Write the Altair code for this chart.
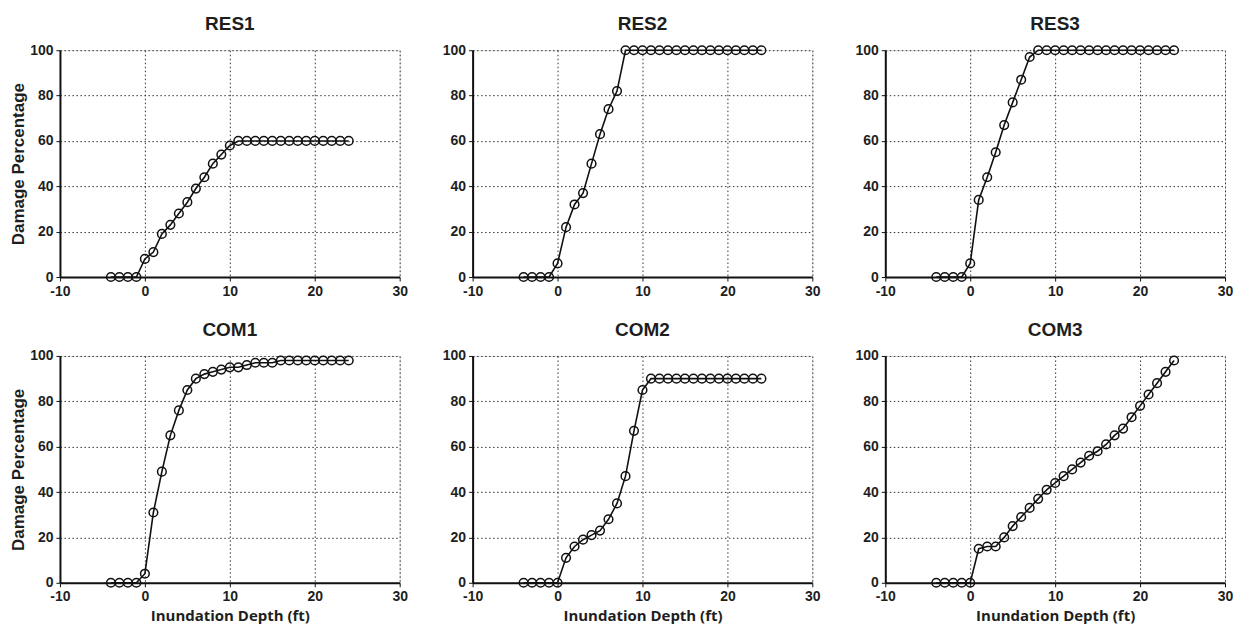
import altair as alt
import pandas as pd

depth = list(range(-4, 25))

res1 = [0, 0, 0, 0, 8, 11, 19, 23, 28, 33, 39, 44, 50, 54, 58] + [60] * 14
res2 = [0, 0, 0, 0, 6, 22, 32, 37, 50, 63, 74, 82] + [100] * 17
res3 = [0, 0, 0, 0, 6, 34, 44, 55, 67, 77, 87, 97] + [100] * 17
com1 = [0, 0, 0, 0, 4, 31, 49, 65, 76, 85, 90, 92, 93, 94, 95, 95, 96, 97, 97, 97] + [98] * 9
com2 = [0, 0, 0, 0, 0, 11, 16, 19, 21, 23, 28, 35, 47, 67, 85] + [90] * 14
com3 = [0, 0, 0, 0, 0, 15, 16, 16, 20, 25, 29, 33, 37, 41, 44, 47, 50, 53, 56, 58,
        61, 65, 68, 73, 78, 83, 88, 93, 98]

panels_data = [("RES1", res1), ("RES2", res2), ("RES3", res3),
               ("COM1", com1), ("COM2", com2), ("COM3", com3)]

x_ticks = [-10, 0, 10, 20, 30]
y_ticks = [0, 20, 40, 60, 80, 100]

TXT = "#1e1e1e"


def panel(name, vals, left, bottom):
    df = pd.DataFrame({"depth": depth, "damage": vals})
    xaxis = alt.Axis(
        values=x_ticks, grid=True, gridDash=[1.5, 2.5], gridColor="#333333", gridWidth=1,
        domainColor="#111111", domainWidth=2, tickColor="#111111", tickSize=4,
        labelFont="Liberation Sans", labelFontWeight="bold", labelFontSize=14,
        labelColor=TXT, labelPadding=3, labelExpr="'' + datum.value",
        labelFlush=False,
        title="Inundation Depth (ft)" if bottom else None,
        titleFont="Open Sans", titleFontWeight="bold", titleFontSize=15,
        titleColor=TXT, titlePadding=5,
    )
    yaxis = alt.Axis(
        values=y_ticks, grid=True, gridDash=[1.5, 2.5], gridColor="#333333", gridWidth=1,
        domainColor="#111111", domainWidth=2, tickColor="#111111", tickSize=4,
        labelFont="Liberation Sans", labelFontWeight="bold", labelFontSize=14,
        labelColor=TXT, labelPadding=3, labelFlush=False,
        title="Damage Percentage",
        titleOpacity=1 if left else 0,
        titleFont="Liberation Sans", titleFontWeight="bold", titleFontSize=17,
        titleColor=TXT, titlePadding=2,
    )
    x = alt.X("depth:Q", scale=alt.Scale(domain=[-10, 30], nice=False), axis=xaxis)
    y = alt.Y("damage:Q", scale=alt.Scale(domain=[0, 100], nice=False), axis=yaxis)
    base = alt.Chart(df)
    line = base.mark_line(color="#111111", strokeWidth=1.6).encode(x=x, y=y)
    pts = base.mark_point(shape="circle", filled=False, color="#111111",
                          size=75, strokeWidth=1.5, opacity=1).encode(x=x, y=y)
    return alt.layer(line, pts).properties(
        width=340, height=227,
        title=alt.TitleParams(name, font="Liberation Sans", fontSize=19,
                              fontWeight="bold", color=TXT, offset=9),
    )


charts = []
for i, (name, vals) in enumerate(panels_data):
    charts.append(panel(name, vals, left=(i % 3 == 0), bottom=(i >= 3)))

chart = alt.concat(*charts, columns=3, spacing={"row": 79, "column": 73},
                   bounds="flush").properties(
    padding={"left": 1, "top": 6, "right": 0, "bottom": 2}
).configure_view(stroke=None).configure(background="white")

chart.save("out.html", embed_options={"renderer": "svg", "actions": False})
